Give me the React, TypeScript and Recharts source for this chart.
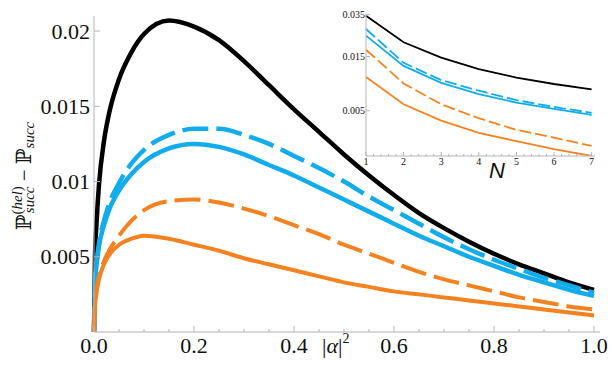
import React from "react"
import { LineChart, Line, XAxis, YAxis } from "recharts"

// main panel: difference of success probabilities vs |alpha|^2
const alphaSq = [0, 0.002, 0.005, 0.01, 0.02, 0.03, 0.05, 0.075, 0.1, 0.15, 0.2, 0.25, 0.3, 0.35, 0.4, 0.45, 0.5, 0.55, 0.6, 0.65, 0.7, 0.75, 0.8, 0.85, 0.9, 0.95, 1.0]
const blackSolid = [0, 0.005, 0.0072, 0.0098, 0.0127, 0.0145, 0.0168, 0.0186, 0.0198, 0.0207, 0.0203, 0.0194, 0.018, 0.0164, 0.0148, 0.0133, 0.0118, 0.0104, 0.0091, 0.0079, 0.0069, 0.006, 0.0052, 0.0045, 0.0039, 0.0033, 0.0028]
const blueDashed = [0, 0.0032, 0.0045, 0.0059, 0.0074, 0.0085, 0.0099, 0.0112, 0.0121, 0.0131, 0.0135, 0.0135, 0.0131, 0.0125, 0.0117, 0.0109, 0.01, 0.009, 0.0081, 0.0072, 0.0063, 0.0055, 0.0048, 0.0042, 0.0036, 0.0031, 0.0026]
const blueSolid = [0, 0.0031, 0.0044, 0.0057, 0.0071, 0.0081, 0.0094, 0.0105, 0.0113, 0.0122, 0.0125, 0.0123, 0.0118, 0.0111, 0.0104, 0.0096, 0.0088, 0.008, 0.0072, 0.0064, 0.0057, 0.005, 0.0044, 0.0038, 0.0033, 0.0028, 0.0024]
const orangeDashed = [0, 0.0021, 0.0029, 0.0037, 0.0047, 0.0054, 0.0064, 0.0074, 0.0081, 0.0087, 0.0088, 0.0086, 0.0082, 0.0077, 0.0071, 0.0065, 0.0058, 0.0052, 0.0046, 0.004, 0.0035, 0.0031, 0.0027, 0.0023, 0.002, 0.0017, 0.0015]
const orangeSolid = [0, 0.0017, 0.0026, 0.0035, 0.0045, 0.0051, 0.0058, 0.0062, 0.0064, 0.0062, 0.0058, 0.0054, 0.0049, 0.0045, 0.0041, 0.0037, 0.0033, 0.003, 0.0027, 0.0025, 0.0023, 0.0021, 0.0019, 0.0017, 0.0015, 0.0013, 0.0011]

const xTicks = [0, 0.05, 0.1, 0.15, 0.2, 0.25, 0.3, 0.35, 0.4, 0.45, 0.5, 0.55, 0.6, 0.65, 0.7, 0.75, 0.8, 0.85, 0.9, 0.95, 1.0]
const yTicks = [0.005, 0.01, 0.015, 0.02]

// inset: same quantities vs N (log scale)
const nValues = [1, 2, 3, 4, 5, 6, 7]
const insetBlack = [0.0342, 0.02, 0.0147, 0.0116, 0.0098, 0.0086, 0.0077]
const insetBlueDashed = [0.0262, 0.0132, 0.0093, 0.0075, 0.0062, 0.0054, 0.0048]
const insetBlueSolid = [0.0229, 0.0124, 0.0088, 0.007, 0.0059, 0.0052, 0.0046]
const insetOrangeDashed = [0.0172, 0.0087, 0.0057, 0.0043, 0.0034, 0.0029, 0.00245]
const insetOrangeSolid = [0.0099, 0.0057, 0.0041, 0.0032, 0.0027, 0.0023, 0.002]
const insetYTicks = [0.005, 0.015, 0.035]

const BLUE = "#12ACEC"
const ORANGE = "#F58220"
const AXIS = "#b4b4b4"
const SERIF = "'Liberation Serif', serif"

const mainData = alphaSq.map((a, i) => ({
  a,
  black: blackSolid[i],
  blueD: blueDashed[i],
  blueS: blueSolid[i],
  orangeD: orangeDashed[i],
  orangeS: orangeSolid[i],
}))

const insetData = nValues.map((n, i) => ({
  n,
  black: insetBlack[i],
  blueD: insetBlueDashed[i],
  blueS: insetBlueSolid[i],
  orangeD: insetOrangeDashed[i],
  orangeS: insetOrangeSolid[i],
}))

const insetMinor = Array.from({ length: 31 }, (_, i) => 1 + i * 0.2)

function MainXTick(props: any) {
  const { x, y, payload } = props
  const v = payload.value
  const major = Math.abs(v * 5 - Math.round(v * 5)) < 1e-6
  return (
    <g>
      <line x1={x} x2={x} y1={y} y2={y - (major ? 6 : 3)} stroke={AXIS} />
      {major && (
        <text x={x} y={y + 21} textAnchor="middle" fontFamily={SERIF} fontSize={22} fill="#111">
          {v.toFixed(1)}
        </text>
      )}
    </g>
  )
}

function MainYTick(props: any) {
  const { x, y, payload } = props
  return (
    <g>
      <line x1={x} x2={x + 6} y1={y} y2={y} stroke={AXIS} />
      <text x={x - 4} y={y} dy="0.35em" textAnchor="end" fontFamily={SERIF} fontSize={22} fill="#111">
        {String(payload.value)}
      </text>
    </g>
  )
}

function InsetXTick(props: any) {
  const { x, y, payload } = props
  const v = payload.value
  const major = Math.abs(v - Math.round(v)) < 1e-6
  return (
    <g>
      <line x1={x} x2={x} y1={y} y2={y - (major ? 4 : 2)} stroke={AXIS} />
      {major && (
        <text x={x} y={y + 9} textAnchor="middle" fontFamily={SERIF} fontSize={10} fill="#111">
          {Math.round(v)}
        </text>
      )}
    </g>
  )
}

function InsetYTick(props: any) {
  const { x, y, payload } = props
  return (
    <g>
      <line x1={x} x2={x + 4} y1={y} y2={y} stroke={AXIS} />
      <text x={x - 1} y={y} dy="0.35em" textAnchor="end" fontFamily={SERIF} fontSize={10} fill="#111">
        {String(payload.value)}
      </text>
    </g>
  )
}

export default function App() {
  return (
    <div style={{ position: "absolute", left: 0, top: 0, width: 612, height: 365, background: "#fff" }}>
      <LineChart width={612} height={365} data={mainData} margin={{ top: 16, right: 12, left: 0, bottom: 0 }}>
        <XAxis
          dataKey="a"
          type="number"
          domain={[0, 1.012]}
          ticks={xTicks}
          interval={0}
          height={33}
          tickSize={0}
          tickMargin={0}
          tickLine={false}
          axisLine={{ stroke: AXIS }}
          tick={(p: any) => <MainXTick {...p} />}
        />
        <YAxis
          type="number"
          domain={[0, 0.021]}
          ticks={yTicks}
          interval={0}
          width={94}
          tickSize={0}
          tickMargin={0}
          tickLine={false}
          axisLine={{ stroke: AXIS }}
          tick={(p: any) => <MainYTick {...p} />}
        />
        <Line type="monotone" dataKey="black" stroke="#000" strokeWidth={4.5} dot={false} activeDot={false} isAnimationActive={false} />
        <Line type="monotone" dataKey="blueS" stroke={BLUE} strokeWidth={4.5} dot={false} activeDot={false} isAnimationActive={false} />
        <Line type="monotone" dataKey="blueD" stroke={BLUE} strokeWidth={4.5} strokeDasharray="26 8" dot={false} activeDot={false} isAnimationActive={false} />
        <Line type="monotone" dataKey="orangeS" stroke={ORANGE} strokeWidth={4} dot={false} activeDot={false} isAnimationActive={false} />
        <Line type="monotone" dataKey="orangeD" stroke={ORANGE} strokeWidth={4} strokeDasharray="26 8" dot={false} activeDot={false} isAnimationActive={false} />
      </LineChart>

      <div style={{ position: "absolute", left: 330, top: 0 }}>
        <LineChart width={282} height={185} data={insetData} margin={{ top: 14, right: 17, left: 0, bottom: 0 }}>
          <XAxis
            dataKey="n"
            type="number"
            domain={[1, 7.09]}
            ticks={insetMinor}
            interval={0}
            height={29}
            tickSize={0}
            tickMargin={0}
            tickLine={false}
            axisLine={{ stroke: AXIS }}
            tick={(p: any) => <InsetXTick {...p} />}
          />
          <YAxis
            type="number"
            scale="log"
            domain={[0.002, 0.0355]}
            allowDataOverflow
            ticks={insetYTicks}
            interval={0}
            width={36}
            tickSize={0}
            tickMargin={0}
            tickLine={false}
            axisLine={{ stroke: AXIS }}
            tick={(p: any) => <InsetYTick {...p} />}
          />
          <Line type="linear" dataKey="black" stroke="#000" strokeWidth={1.8} dot={false} activeDot={false} isAnimationActive={false} />
          <Line type="linear" dataKey="blueS" stroke={BLUE} strokeWidth={1.8} dot={false} activeDot={false} isAnimationActive={false} />
          <Line type="linear" dataKey="blueD" stroke={BLUE} strokeWidth={1.8} strokeDasharray="12 4" dot={false} activeDot={false} isAnimationActive={false} />
          <Line type="linear" dataKey="orangeS" stroke={ORANGE} strokeWidth={1.8} dot={false} activeDot={false} isAnimationActive={false} />
          <Line type="linear" dataKey="orangeD" stroke={ORANGE} strokeWidth={1.8} strokeDasharray="12 4" dot={false} activeDot={false} isAnimationActive={false} />
        </LineChart>
      </div>

      <svg width={612} height={365} style={{ position: "absolute", left: 0, top: 0, pointerEvents: "none" }}>
        <g transform="translate(31,176) rotate(-90)">
          <text textAnchor="middle" fontFamily={SERIF} fontSize={21} fill="#111">
            <tspan fontFamily="'DejaVu Serif', serif">ℙ</tspan>
            <tspan fontSize={15} dy={-9}>(</tspan>
            <tspan fontSize={15} fontStyle="italic">hel</tspan>
            <tspan fontSize={15}>)</tspan>
            <tspan fontSize={15} fontStyle="italic" dx={-27} dy={12}>succ</tspan>
            <tspan dy={-3}> − </tspan>
            <tspan fontFamily="'DejaVu Serif', serif">ℙ</tspan>
            <tspan fontSize={15} fontStyle="italic" dy={3}>succ</tspan>
          </text>
        </g>
        <text x={322} y={353} fontFamily={SERIF} fontSize={22} fill="#111">
          |<tspan fontStyle="italic">α</tspan>|<tspan fontSize={14} dy={-10}>2</tspan>
        </text>
        <text x={497} y={178} textAnchor="middle" fontFamily="'Liberation Sans', sans-serif" fontStyle="italic" fontSize={22} fill="#111">
          N
        </text>
      </svg>
    </div>
  )
}
